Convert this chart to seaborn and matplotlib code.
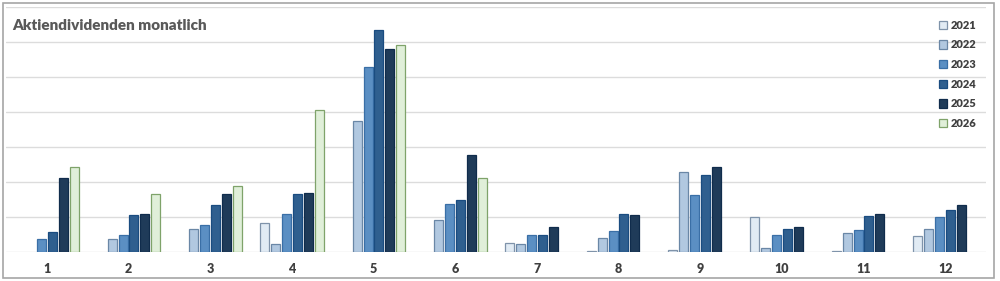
import pandas as pd
import numpy as np
import matplotlib.pyplot as plt
from matplotlib.patches import Rectangle
import seaborn as sns

sns.set_theme(style="white")
plt.rcParams['font.family'] = ['Lato', 'DejaVu Sans']

months = list(range(1, 13))
years = ["2021", "2022", "2023", "2024", "2025", "2026"]

# Werte je Jahr und Monat (NaN = keine Dividende)
v2021 = [np.nan, np.nan, np.nan, 0.83, np.nan, np.nan, 0.26, 0.05, 0.07, 1.02, 0.04, 0.47]
v2022 = [np.nan, 0.37, 0.66, 0.23, 3.76, 0.92, 0.24, 0.41, 2.30, 0.13, 0.54, 0.66]
v2023 = [0.38, 0.50, 0.77, 1.09, 5.29, 1.38, 0.50, 0.62, 1.65, 0.49, 0.64, 1.01]
v2024 = [0.59, 1.07, 1.35, 1.67, 6.36, 1.50, 0.50, 1.10, 2.22, 0.66, 1.04, 1.20]
v2025 = [2.13, 1.10, 1.67, 1.70, 5.80, 2.78, 0.72, 1.08, 2.44, 0.72, 1.10, 1.35]
v2026 = [2.45, 1.67, 1.89, 4.07, 5.93, 2.11, np.nan, np.nan, np.nan, np.nan, np.nan, np.nan]

fill_colors = ["#DEEBF7", "#A9C8E8", "#4A8FD4", "#1F5F9F", "#163A62", "#DFF2D6"]
edge_colors = ["#7F93AA", "#6A87A6", "#3A6FA6", "#1A4C80", "#102C4C", "#7FA36A"]

rows = []
for year, vals in zip(years, [v2021, v2022, v2023, v2024, v2025, v2026]):
    for m, v in zip(months, vals):
        rows.append({"Monat": str(m), "Jahr": year, "Wert": v})
df = pd.DataFrame(rows).dropna()

fig = plt.figure(figsize=(10, 2.81), dpi=100)
ax = fig.add_axes([0.006, 0.102, 0.98, 0.872])

sns.barplot(data=df, x="Monat", y="Wert", hue="Jahr", order=[str(m) for m in months],
            hue_order=years, palette=fill_colors, width=0.8, gap=0.17,
            linewidth=0.9, ax=ax, legend=True)

for cont, ec in zip(ax.containers, edge_colors):
    for bar in cont:
        bar.set_edgecolor(ec)

ax.set_ylim(0, 7)
ax.set_yticks(range(0, 8))
ax.set_yticklabels([])
ax.yaxis.grid(True, color="#DCDCDC", linewidth=1)
ax.set_axisbelow(True)
ax.set_xlabel("")
ax.set_ylabel("")
for s in ax.spines.values():
    s.set_visible(False)
ax.tick_params(axis="x", length=0, pad=8, labelsize=9, labelcolor="#404040")
ax.tick_params(axis="y", length=0)
for lbl in ax.get_xticklabels():
    lbl.set_fontweight("heavy")

handles, labels = ax.get_legend_handles_labels()
for h, ec in zip(handles, edge_colors):
    h.set_edgecolor(ec)
leg = ax.legend(handles, labels, loc="upper right", bbox_to_anchor=(1.0, 0.99),
                frameon=False, handlelength=0.75, handleheight=0.75, handletextpad=0.3,
                labelspacing=0.78, prop={"weight": "heavy", "size": 8})
for t in leg.get_texts():
    t.set_color("#404040")

fig.text(0.012, 1 - 25 / 281, "Aktiendividenden monatlich", fontsize=11,
         fontweight="heavy", color="#595959", va="center", ha="left")

fig.patches.append(Rectangle((0.003, 0.012), 0.991, 0.978, transform=fig.transFigure,
                             fill=False, edgecolor="#A6A6A6", linewidth=1.2))

fig.savefig("out.png", dpi=100)
